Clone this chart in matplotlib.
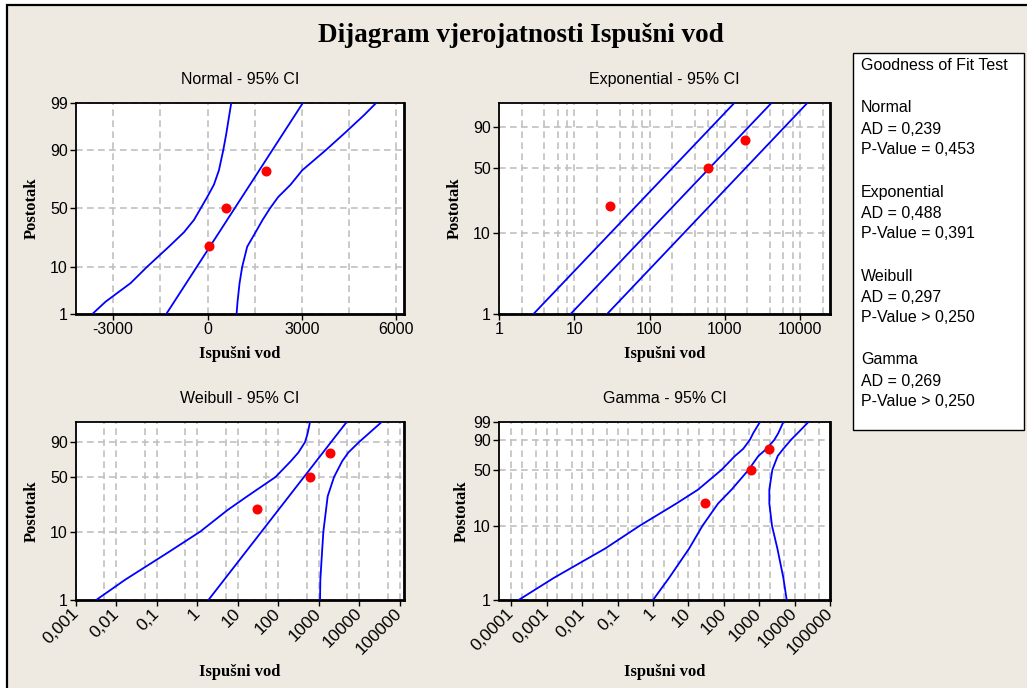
import numpy as np
import matplotlib
matplotlib.use("Agg")
import matplotlib.pyplot as plt
from matplotlib.patches import Rectangle
from math import erf

plt.rcParams["axes.unicode_minus"] = False

# measured values (Ispušni vod) and their plotting positions in %
data_x = [30, 590, 1850]
data_pct = [20.6, 50.0, 79.4]

# Normal: fitted line and 95% CI
norm_fit_pct = [1, 99]
norm_fit_x = [-1312, 3026]
norm_ci_pct = [1, 2, 5, 10, 20, 30, 40, 50, 60, 70, 80, 90, 95, 98, 99]
norm_ci_lo = [-3661, -3238, -2444, -1915, -1228, -751, -434, -222, -11, 201, 360, 497, 593, 688, 751]
norm_ci_hi = [921, 952, 1016, 1101, 1259, 1524, 1746, 1979, 2243, 2635, 3005, 3746, 4328, 4963, 5354]

# Exponential: straight lines
exp_pct = [1, 99]
exp_fit_x = [8.94, 4169]
exp_ci_lo = [2.87, 1337]
exp_ci_hi = [27.3, 12494]

# Weibull
wb_fit_pct = [1, 99]
wb_fit_x = [1.87, 4865]
wb_ci_pct = [1, 2, 5, 10, 20, 30, 50, 70, 80, 90, 95, 99]
wb_ci_lo = [0.00315, 0.0164, 0.185, 1.16, 5.6, 17, 85, 205, 312, 455, 520, 605]
wb_ci_hi = [1069, 1089, 1197, 1292, 1503, 1652, 2370, 3800, 5350, 9800, 16000, 35600]

# Gamma
gm_pct = [1, 2, 5, 10, 20, 30, 50, 70, 80, 90, 95, 99]
gm_fit_x = [1.0, 2.84, 10.5, 25, 69, 166, 500, 944, 1627, 2680, 3475, 4820]
gm_ci_lo = [1.6e-4, 1.57e-3, 0.0447, 0.42, 4.58, 18.8, 86, 206, 355, 547, 680, 1052]
gm_ci_hi = [5985, 4820, 3260, 2300, 1932, 1932, 2350, 3330, 4820, 7940, 12270, 24600]

# goodness of fit table
gof_dist = ["Normal", "Exponential", "Weibull", "Gamma"]
gof_ad = ["0,239", "0,488", "0,297", "0,269"]
gof_p = ["= 0,453", "= 0,391", "> 0,250", "> 0,250"]

# tick labels
wb_xticks = [1e-3, 1e-2, 1e-1, 1, 10, 100, 1000, 10000, 100000]
wb_xlabels = ["0,001", "0,01", "0,1", "1", "10", "100", "1000", "10000", "100000"]
gm_xticks = [1e-4] + wb_xticks
gm_xlabels = ["0,0001"] + wb_xlabels

BG = "#EEEAE1"
BLUE = "#0000FF"
RED = "#FF0000"
SANS = "Liberation Sans"
SERIF = "Liberation Serif"
W, H = 1027, 688


# probability scales
def weib_fwd(p):
    p = np.clip(np.asarray(p, dtype=float), 1e-4, 99.9999) / 100.0
    return np.log(-np.log1p(-p))


def weib_inv(w):
    return 100.0 * -np.expm1(-np.exp(np.asarray(w, dtype=float)))


_z = np.linspace(-6, 6, 4001)
_p = np.array([50.0 * (1 + erf(v / np.sqrt(2))) for v in _z])


def norm_fwd(p):
    return np.interp(p, _p, _z)


def norm_inv(z):
    return np.interp(z, _z, _p)


# gamma axis spacing (relative heights of 1, 10, 50, 90, 99 on the gamma panel)
gam_ref_pct = [1, 10, 50, 90, 99]
gam_ref_pos = [0.0, 74.0, 129.7, 159.7, 177.4]
_gw = list(weib_fwd(gam_ref_pct))
_s0 = (gam_ref_pos[1] - gam_ref_pos[0]) / (_gw[1] - _gw[0])
_s1 = (gam_ref_pos[-1] - gam_ref_pos[-2]) / (_gw[-1] - _gw[-2])
_gw_ext = np.array([_gw[0] - 30] + _gw + [_gw[-1] + 30])
_gp_ext = np.array([gam_ref_pos[0] - 30 * _s0] + gam_ref_pos + [gam_ref_pos[-1] + 30 * _s1])


def gam_fwd(p):
    return np.interp(weib_fwd(p), _gw_ext, _gp_ext)


def gam_inv(v):
    return weib_inv(np.interp(v, _gp_ext, _gw_ext))


fig = plt.figure(figsize=(W / 100, H / 100), dpi=100)
fig.patch.set_facecolor("white")
fig.patches.append(Rectangle((7 / W, -0.02), 1.0, 1.02 - 5 / H, transform=fig.transFigure,
                             facecolor=BG, edgecolor="black", lw=1.6, zorder=-10))

fig.text(0.507, 1 - 36 / H, "Dijagram vjerojatnosti Ispušni vod", ha="center", va="center",
         fontsize=19.5, fontweight="bold", family=SERIF)


def px_rect(l, t, r, b):
    return [l / W, 1 - b / H, (r - l) / W, (b - t) / H]


def setup(ax, title, yfwd, yinv, yticks, ylab_x, xlab_y):
    ax.set_facecolor("white")
    ax.set_yscale("function", functions=(yfwd, yinv))
    ax.set_ylim(1, 99)
    ax.set_yticks(yticks)
    ax.set_yticklabels([str(t) for t in yticks])
    ax.set_title(title, fontsize=11.5, family=SANS, pad=14)
    ax.set_xlabel("Ispušni vod", fontsize=12, fontweight="bold", family=SERIF)
    ax.set_ylabel("Postotak", fontsize=12, fontweight="bold", family=SERIF)
    ax.xaxis.set_label_coords(0.5, xlab_y)
    ax.yaxis.set_label_coords(ylab_x, 0.5)
    ax.tick_params(axis="both", which="major", direction="out", length=4, width=1,
                   labelsize=11.5, pad=2)
    ax.tick_params(axis="x", which="minor", length=0)
    for lab in ax.get_xticklabels() + ax.get_yticklabels():
        lab.set_family(SANS)
    ax.grid(True, which="both", axis="x", color="#C0C0C0", lw=1.2, linestyle=(0, (4, 2.6)))
    ax.grid(True, which="major", axis="y", color="#C0C0C0", lw=1.2, linestyle=(0, (4, 2.6)))
    ax.set_axisbelow(True)
    for s in ["top", "left"]:
        ax.spines[s].set_linewidth(1.3)
    for s in ["bottom", "right"]:
        ax.spines[s].set_linewidth(2.0)


def draw(ax, curves):
    for xs, ps in curves:
        ax.plot(xs, ps, color=BLUE, lw=1.3, zorder=3)
    ax.plot(data_x, data_pct, "o", color=RED, ms=6.2, mec=RED, zorder=4)


# Normal
ax1 = fig.add_axes(px_rect(76, 103, 404, 314))
draw(ax1, [(norm_fit_x, norm_fit_pct), (norm_ci_lo, norm_ci_pct), (norm_ci_hi, norm_ci_pct)])
ax1.set_xlim(-4180, 6240)
ax1.set_xticks([-3000, 0, 3000, 6000])
ax1.set_xticks([-1500, 1500, 4500], minor=True)
setup(ax1, "Normal - 95% CI", norm_fwd, norm_inv, [1, 10, 50, 90, 99], -0.11, -0.15)

# Exponential
ax2 = fig.add_axes(px_rect(499, 103, 830, 314))
draw(ax2, [(exp_fit_x, exp_pct), (exp_ci_lo, exp_pct), (exp_ci_hi, exp_pct)])
ax2.set_xscale("log")
ax2.set_xlim(1, 25000)
ax2.set_xticks([1, 10, 100, 1000, 10000])
ax2.set_xticklabels(["1", "10", "100", "1000", "10000"])
ax2.set_xticks([m * 10 ** k for k in range(0, 5) for m in (2, 4, 6, 8) if m * 10 ** k < 25000],
               minor=True)
ax2.xaxis.set_minor_formatter(matplotlib.ticker.NullFormatter())
setup(ax2, "Exponential - 95% CI", weib_fwd, weib_inv, [1, 10, 50, 90], -0.109, -0.15)

# Weibull
ax3 = fig.add_axes(px_rect(76, 422, 404, 600))
draw(ax3, [(wb_fit_x, wb_fit_pct), (wb_ci_lo, wb_ci_pct), (wb_ci_hi, wb_ci_pct)])
ax3.set_xscale("log")
ax3.set_xlim(1e-3, 1.27e5)
ax3.set_xticks(wb_xticks)
ax3.set_xticks([5 * 10.0 ** k for k in range(-3, 5)], minor=True)
ax3.xaxis.set_minor_formatter(matplotlib.ticker.NullFormatter())
setup(ax3, "Weibull - 95% CI", weib_fwd, weib_inv, [1, 10, 50, 90], -0.11, -0.36)
ax3.set_xticklabels(wb_xlabels, rotation=45, ha="right", va="center", rotation_mode="anchor",
                    fontsize=12.5, family=SANS)
ax3.tick_params(axis="x", which="major", pad=4)

# Gamma
ax4 = fig.add_axes(px_rect(499, 422, 830, 600))
draw(ax4, [(gm_fit_x, gm_pct), (gm_ci_lo, gm_pct), (gm_ci_hi, gm_pct)])
ax4.set_xscale("log")
ax4.set_xlim(4.46e-5, 1e5)
ax4.set_xticks(gm_xticks)
ax4.set_xticks([m * 10.0 ** k for k in range(-4, 5) for m in (2, 5)], minor=True)
ax4.xaxis.set_minor_formatter(matplotlib.ticker.NullFormatter())
setup(ax4, "Gamma - 95% CI", gam_fwd, gam_inv, [1, 10, 50, 90, 99], -0.088, -0.36)
ax4.set_xticklabels(gm_xlabels, rotation=45, ha="right", va="center", rotation_mode="anchor",
                    fontsize=12.5, family=SANS)
ax4.tick_params(axis="x", which="major", pad=4)

# goodness of fit box
fig.patches.append(Rectangle((853 / W, 1 - 430 / H), (1024 - 853) / W, (430 - 53) / H,
                             transform=fig.transFigure, facecolor="white", edgecolor="black",
                             lw=1.0, zorder=-5))
lines = ["Goodness of Fit Test", ""]
for d, a, p in zip(gof_dist, gof_ad, gof_p):
    lines += [d, "AD = " + a, "P-Value " + p, ""]
for i, t in enumerate(lines):
    if t:
        fig.text(861 / W, 1 - (66 + 21 * i) / H, t, ha="left", va="center",
                 fontsize=11.5, family=SANS)

fig.savefig("out.png", dpi=100, facecolor=fig.get_facecolor())
